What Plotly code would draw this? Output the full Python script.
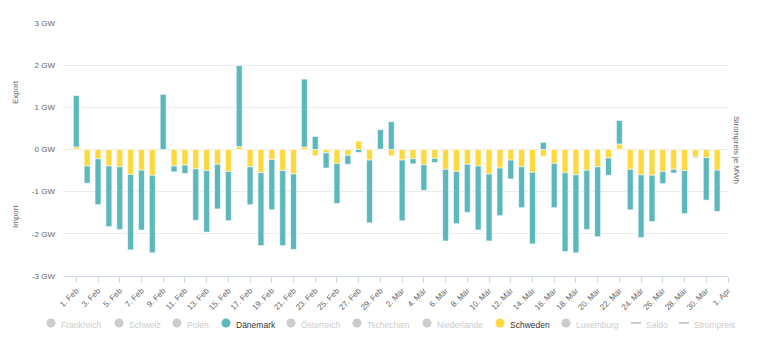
import plotly.graph_objects as go
import pandas as pd

# ---- data (GW, daily net exchange) ----
DATES = pd.date_range("2024-02-01", "2024-03-31", freq="D").strftime("%Y-%m-%d").tolist()

DAENEMARK = [1.22, -0.41, -1.09, -1.44, -1.49, -1.79, -1.42, -1.84, 1.31, -0.14,
             -0.20, -1.22, -1.46, -1.06, -1.17, 1.92, -0.90, -1.73, -1.19, -1.78,
             -1.79, 1.61, 0.31, -0.36, -0.95, -0.21, -0.07, -1.49, 0.46, 0.66,
             -1.44, -0.12, -0.61, -0.10, -1.70, -1.24, -1.14, -1.52, -1.59, -1.13,
             -0.45, -0.97, -1.70, 0.17, -1.05, -1.87, -1.85, -1.41, -1.66, -0.41,
             0.56, -0.96, -1.49, -1.10, -0.29, -0.09, -1.02, -0.02, -1.01, -0.98]

SCHWEDEN = [0.06, -0.39, -0.22, -0.39, -0.41, -0.59, -0.49, -0.61, -0.02, -0.39,
            -0.37, -0.46, -0.50, -0.35, -0.52, 0.07, -0.41, -0.55, -0.24, -0.50,
            -0.58, 0.06, -0.15, -0.08, -0.33, -0.14, 0.20, -0.25, 0.01, -0.15,
            -0.25, -0.22, -0.36, -0.21, -0.47, -0.52, -0.35, -0.39, -0.58, -0.44,
            -0.25, -0.41, -0.54, -0.16, -0.33, -0.55, -0.60, -0.49, -0.41, -0.20,
            0.13, -0.47, -0.60, -0.61, -0.52, -0.47, -0.50, -0.18, -0.19, -0.49]

TICK_DATES = pd.date_range("2024-02-01", "2024-04-01", freq="2D")
MONTHS_DE = {2: "Feb", 3: "Mär", 4: "Apr"}
TICK_LABELS = [f"{d.day}. {MONTHS_DE[d.month]}" for d in TICK_DATES]

Y_TICKS = [-3, -2, -1, 0, 1, 2, 3]
Y_LABELS = [f"{v} GW" for v in Y_TICKS]

LEGEND_NAMES = ["Frankreich", "Schweiz", "Polen", "Dänemark", "Österreich", "Tschechien",
                "Niederlande", "Schweden", "Luxemburg", "Saldo", "Strompreis"]

# ---- styles ----
TEAL = "#5cb8bc"
YELLOW = "#ffd83d"
GREY_TXT = "#666666"
FONT = "Liberation Sans, Arial, sans-serif"
DAY_MS = 86400000

W, H = 763, 347
L, R, T, B = 64, 35, 23, 71
PW, PH = W - L - R, H - T - B

fig = go.Figure()
fig.add_trace(go.Bar(x=DATES, y=SCHWEDEN, name="Schweden", marker=dict(color=YELLOW, line=dict(color="#ffffff", width=0.6)),
                     width=0.55 * DAY_MS, showlegend=False))
fig.add_trace(go.Bar(x=DATES, y=DAENEMARK, name="Dänemark", marker=dict(color=TEAL, line=dict(color="#ffffff", width=0.6)),
                     width=0.55 * DAY_MS, showlegend=False))

fig.update_layout(
    width=W, height=H,
    margin=dict(l=L, r=R, t=T, b=B),
    barmode="relative",
    plot_bgcolor="white", paper_bgcolor="white",
    font=dict(family=FONT, size=8, color=GREY_TXT),
    showlegend=False,
    xaxis=dict(
        type="date",
        range=["2024-01-30 20:50", "2024-04-01 00:00"],
        tickvals=TICK_DATES.strftime("%Y-%m-%d").tolist(),
        ticktext=TICK_LABELS,
        tickangle=-45,
        ticks="outside", ticklen=6, tickcolor="#ccd6eb",
        showline=True, linecolor="#ccd6eb", linewidth=1,
        showgrid=False, zeroline=False,
        tickfont=dict(size=8, color=GREY_TXT),
    ),
    yaxis=dict(
        range=[-3, 3],
        tickvals=Y_TICKS, ticktext=Y_LABELS,
        showgrid=True, gridcolor="#ececec", gridwidth=1,
        zeroline=False, ticks="", ticklabelstandoff=8,
        tickfont=dict(size=8, color=GREY_TXT),
    ),
)

def px_x(px):
    return (px - L) / PW

def px_y(py):
    return (H - B - py) / PH

annotations = [
    dict(text="Export", x=px_x(15), y=px_y(92), textangle=-90),
    dict(text="Import", x=px_x(15), y=px_y(217), textangle=-90),
    dict(text="Strompreis je MWh", x=px_x(737), y=px_y(150), textangle=90),
]
for a in annotations:
    a.update(xref="paper", yref="paper", showarrow=False, xanchor="center", yanchor="middle",
             font=dict(size=8, color=GREY_TXT, family=FONT))

# ---- manual legend (Highcharts style) ----
LEG_SYMBOL_X = [51, 119, 177, 226, 291, 357, 427, 500, 566, 636, 684]
LEG_TEXT_X = [59, 127, 185, 234, 299, 365, 435, 508, 574, 644, 692]
LEG_Y = 325
shapes = []
for name, sx, tx in zip(LEGEND_NAMES, LEG_SYMBOL_X, LEG_TEXT_X):
    active = name in ("Dänemark", "Schweden")
    col = TEAL if name == "Dänemark" else YELLOW if name == "Schweden" else "#cccccc"
    if name in ("Saldo", "Strompreis"):
        shapes.append(dict(type="line", xref="paper", yref="paper",
                           x0=px_x(sx - 5), x1=px_x(sx + 5), y0=px_y(LEG_Y - 2), y1=px_y(LEG_Y - 2),
                           line=dict(color="#cccccc", width=2)))
    else:
        r = 4.5
        shapes.append(dict(type="circle", xref="paper", yref="paper",
                           x0=px_x(sx - r), x1=px_x(sx + r), y0=px_y(LEG_Y - 2 + r), y1=px_y(LEG_Y - 2 - r),
                           fillcolor=col, line=dict(width=0)))
    annotations.append(dict(text=name, xref="paper", yref="paper", x=px_x(tx), y=px_y(LEG_Y),
                            xanchor="left", yanchor="middle", showarrow=False,
                            font=dict(size=8.5, family=FONT, color="#333333" if active else "#cccccc")))

fig.update_layout(annotations=annotations, shapes=shapes)
fig.write_html("out.html")
